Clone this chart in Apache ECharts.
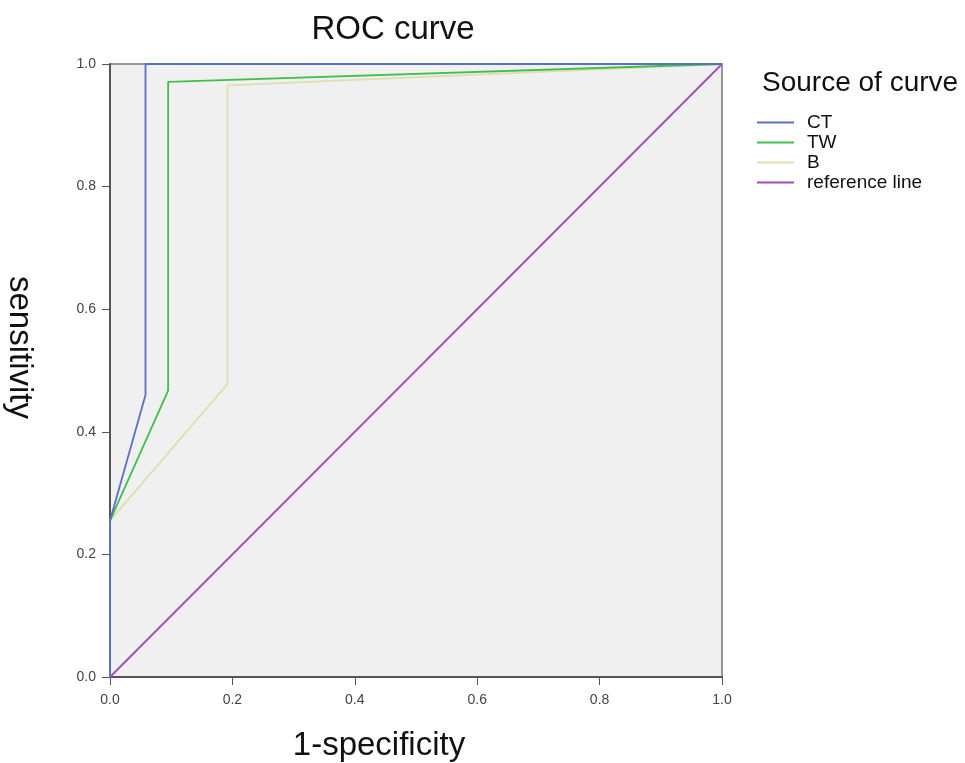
<!DOCTYPE html>
<html>
<head>
<meta charset="utf-8">
<script src="https://cdn.jsdelivr.net/npm/echarts@6/dist/echarts.min.js"></script>
<style>
  html, body { margin: 0; padding: 0; background: #fff; }
  #chart { width: 965px; height: 763px; }
</style>
</head>
<body>
<div id="chart"></div>
<script>
// ROC curve points [1-specificity, sensitivity]
const ctPoints = [[0, 0], [0, 0.255], [0.058, 0.46], [0.058, 1.0], [1, 1]]
const twPoints = [[0, 0], [0, 0.255], [0.095, 0.467], [0.095, 0.971], [1, 1]]
const bPoints = [[0, 0], [0, 0.255], [0.192, 0.478], [0.192, 0.965], [1, 1]]
const refPoints = [[0, 0], [1, 1]]
const seriesNames = ['CT', 'TW', 'B', 'reference line']
const seriesColors = ['#5a6fc6', '#3fbf4c', '#e2ddac', '#a24fb2']

const font = 'Liberation Sans, Arial, sans-serif'
const allPoints = [ctPoints, twPoints, bPoints, refPoints]

let chart = echarts.init(document.getElementById('chart'))

let option = {
    animation: false,
    title: [
        {
            text: 'ROC curve',
            left: 388,
            top: 8,
            textAlign: 'center',
            textStyle: { fontFamily: font, fontSize: 33, fontWeight: 'normal', color: '#111' },
        },
        {
            // 图例标题
            text: 'Source of curve',
            left: 757,
            top: 64,
            textStyle: { fontFamily: font, fontSize: 28, fontWeight: 'normal', color: '#111' },
        },
    ],
    legend: {
        orient: 'vertical',
        left: 752,
        top: 108,
        itemWidth: 37,
        itemHeight: 2,
        itemGap: 1,
        icon: 'rect',
        textStyle: { fontFamily: font, fontSize: 19, color: '#111', padding: [0, 0, 0, 8] },
        data: seriesNames,
    },
    grid: {
        left: 110,
        right: 243,
        top: 64,
        bottom: 86,
        outerBoundsMode: 'none',
        containLabel: false,
        show: true,
        backgroundColor: '#f0f0f0',
        borderColor: '#777',
        borderWidth: 1.5,
    },
    xAxis: {
        type: 'value',
        min: 0,
        max: 1,
        interval: 0.2,
        name: '1-specificity',
        nameLocation: 'middle',
        nameGap: 52,
        nameTextStyle: { fontFamily: font, fontSize: 33, color: '#111', padding: [0, 74, 0, 0] },
        axisLine: { show: true, lineStyle: { color: '#555', width: 2 } },
        axisTick: { show: true, length: 8, lineStyle: { color: '#555' } },
        axisLabel: {
            fontFamily: font,
            fontSize: 14,
            color: '#444',
            margin: 16,
            formatter: (v) => v.toFixed(1),
        },
        splitLine: { show: false },
    },
    yAxis: {
        type: 'value',
        min: 0,
        max: 1,
        interval: 0.2,
        name: 'sensitivity',
        nameLocation: 'middle',
        nameRotate: -90,
        nameGap: 74,
        nameTextStyle: { fontFamily: font, fontSize: 33, color: '#111', padding: [0, 46, 0, 0] },
        axisLine: { show: true, lineStyle: { color: '#555', width: 2 } },
        axisTick: { show: true, length: 8, lineStyle: { color: '#555' } },
        axisLabel: {
            fontFamily: font,
            fontSize: 14,
            color: '#444',
            margin: 14,
            formatter: (v) => v.toFixed(1),
        },
        splitLine: { show: false },
    },
    series: seriesNames.map((name, i) => ({
        name: name,
        type: 'line',
        symbol: 'none',
        color: seriesColors[i],
        lineStyle: { width: 1.8, color: seriesColors[i] },
        data: allPoints[i],
        z: 4 - i,
    })),
}

chart.setOption(option)
</script>
</body>
</html>
